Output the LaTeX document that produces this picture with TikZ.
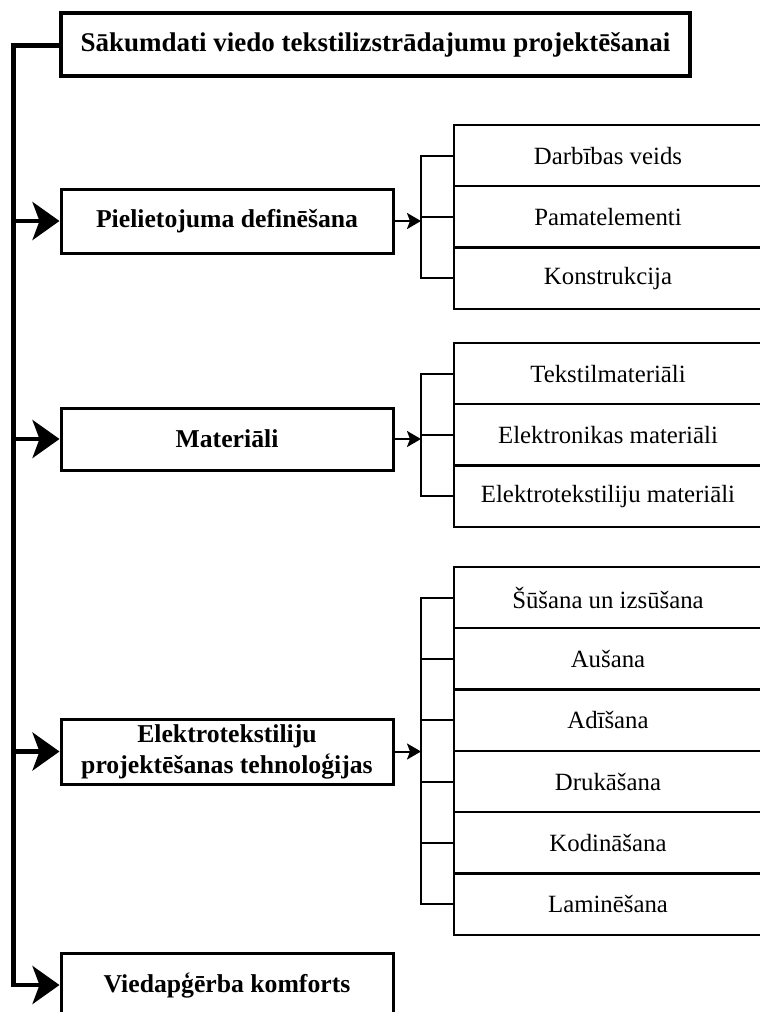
\documentclass[tikz,border=0pt]{standalone}
\usepackage{fontspec}
\setmainfont{Liberation Serif}
\usetikzlibrary{arrows.meta}
\begin{document}
\begin{tikzpicture}[x=1pt,y=-1pt,
  titlebox/.style={draw, line width=4.5pt, minimum width=629pt, minimum height=63pt, inner sep=0pt, font=\fontsize{27}{32}\selectfont\bfseries},
  mainbox/.style={draw, line width=3pt, minimum width=332pt, inner sep=0pt, align=center, font=\fontsize{25.7}{31}\selectfont\bfseries},
  subbox/.style={draw, line width=2.3pt, minimum width=308pt, minimum height=61.3pt, inner sep=0pt, font=\fontsize{24.8}{28}\selectfont},
  bigarrow/.style={line width=4.5pt, line join=miter, -{Stealth[length=27pt,width=38pt,inset=7pt]}},
  smallarrow/.style={line width=2pt, -{Stealth[length=14pt,width=16pt,inset=3pt]}},
  bracket/.style={line width=2pt}]
\useasboundingbox (0,0) rectangle (760,1012);

% main column
\node[titlebox] (top) at (375.5,44.5) {Sākumdati viedo tekstilizstrādajumu projektēšanai};
\node[mainbox, minimum height=64pt] (p1) at (227,221) {Pielietojuma definēšana};
\node[mainbox, minimum height=62pt] (p2) at (227,439) {Materiāli};
\node[mainbox, minimum height=65pt] (p3) at (227,751.5) {Elektrotekstiliju\\projektēšanas tehnoloģijas};
\node[mainbox, minimum height=64pt] (p4) at (227,985) {Viedapģērba komforts};

% group 1
\node[subbox] (r11) at (608,155.65) {Darbības veids};
\node[subbox] (r12) at (608,216.95) {Pamatelementi};
\node[subbox] (r13) at (608,278.25) {Konstrukcija};

% group 2
\node[subbox] (r21) at (608,373.65) {Tekstilmateriāli};
\node[subbox] (r22) at (608,434.95) {Elektronikas materiāli};
\node[subbox] (r23) at (608,496.25) {Elektrotekstiliju materiāli};

% group 3
\node[subbox] (r31) at (608,597.65) {Šūšana un izsūšana};
\node[subbox] (r32) at (608,658.95) {Aušana};
\node[subbox] (r33) at (608,720.25) {Adīšana};
\node[subbox] (r34) at (608,781.55) {Drukāšana};
\node[subbox] (r35) at (608,842.85) {Kodināšana};
\node[subbox] (r36) at (608,904.15) {Laminēšana};

% bracket points
\coordinate (k1) at (421,221);
\coordinate (k2) at (421,439);
\coordinate (k3) at (421,751.5);
\coordinate (t0) at (13.5,45.5);

% trunk and big arrows
\draw[bigarrow] (top.west |- t0) -- (t0) -- (t0 |- p4.west) -- (p4.west);
\draw[bigarrow] (t0 |- p1.west) -- (p1.west);
\draw[bigarrow] (t0 |- p2.west) -- (p2.west);
\draw[bigarrow] (t0 |- p3.west) -- (p3.west);

% small arrows
\draw[smallarrow] (p1.east) -- (k1);
\draw[smallarrow] (p2.east) -- (k2);
\draw[smallarrow] (p3.east) -- (k3);

% brackets
\draw[bracket] (r11.west) -| (k1) |- (r13.west);
\draw[bracket] (r12.west) -- (r12.west -| k1);
\draw[bracket] (r21.west) -| (k2) |- (r23.west);
\draw[bracket] (r22.west) -- (r22.west -| k2);
\draw[bracket] (r31.west) -| (k3) |- (r36.west);
\draw[bracket] (r32.west) -- (r32.west -| k3);
\draw[bracket] (r33.west) -- (r33.west -| k3);
\draw[bracket] (r34.west) -- (r34.west -| k3);
\draw[bracket] (r35.west) -- (r35.west -| k3);
\end{tikzpicture}
\end{document}
